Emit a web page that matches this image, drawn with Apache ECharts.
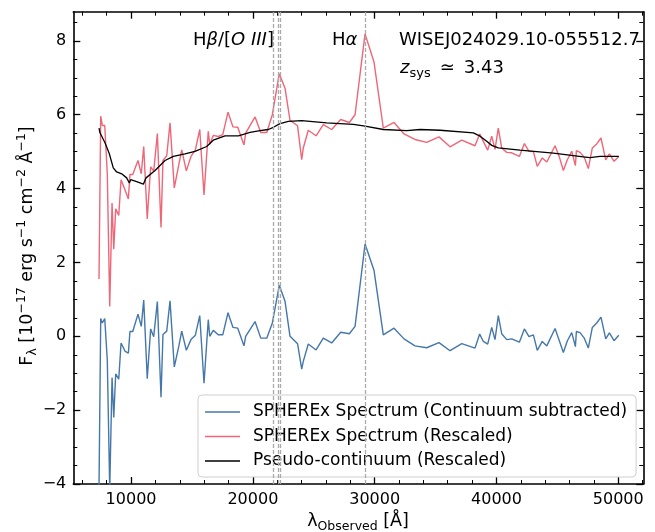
<!DOCTYPE html>
<html><head><meta charset="utf-8">
<script src="https://cdn.jsdelivr.net/npm/echarts@6/dist/echarts.min.js"></script>
<style>html,body{margin:0;padding:0;background:#fff}#c{width:655px;height:532px}</style>
</head><body><div id="c"></div>
<script>
// ---- data ----
const wavelength = [7370,7510,7640,7840,8050,8250,8440,8580,8740,8990,9180,9500,9780,9910,10140,10570,10840,11040,11330,11610,11860,12160,12460,12620,12930,13200,13550,13940,14160,14540,14920,15280,15640,15990,16340,16460,16750,17160,17530,17960,18370,18760,19270,19410,20180,20650,21140,21600,22170,22640,23050,23670,24010,24140,24550,25190,25780,26470,27210,27920,28390,29210,29950,30710,31590,32410,33310,34270,35280,36190,37150,38240,38620,38920,39280,39610,39880,40150,40430,40840,41250,41880,42290,42670,43030,43350,43760,44130,44810,45160,45490,45820,46180,46480,46560,46860,47210,47540,47870,48230,48580,48970,49270,49650,50040];
const fluxRescaled = [1.55,5.96,5.71,5.71,4.40,0.81,3.61,2.36,3.45,3.27,4.24,3.97,3.72,4.38,4.38,4.76,4.40,5.14,3.18,4.59,4.47,5.49,2.95,4.76,4.89,5.78,4.02,4.68,5.05,4.48,4.87,5.05,5.60,3.83,5.55,5.20,5.44,5.41,5.46,6.07,5.67,5.66,5.18,5.50,5.94,5.52,5.52,6.00,7.11,6.72,5.85,5.70,4.78,5.10,5.58,5.43,5.73,5.60,5.87,5.79,6.00,8.19,7.42,5.64,5.79,5.48,5.33,5.25,5.40,5.13,5.31,5.16,5.48,5.28,5.04,5.42,5.06,5.64,5.10,4.98,4.97,4.87,5.22,5.01,5.00,4.60,4.83,4.72,5.16,4.86,4.49,4.78,5.01,4.62,5.03,4.98,4.85,4.54,5.10,5.21,5.37,4.78,4.94,4.74,4.87];
const fluxSubtracted = [-4.09,0.48,0.36,0.48,-0.64,-4.14,-1.12,-2.20,-1.02,-1.16,-0.18,-0.40,-0.46,0.13,0.13,0.60,0.27,0.98,-1.15,0.20,-0.01,0.94,-1.65,0.05,0.14,0.96,-0.83,-0.24,0.14,-0.38,-0.09,0.03,0.56,-1.27,0.45,0.00,0.16,0.04,0.04,0.64,0.24,0.22,-0.26,0.00,0.40,-0.05,-0.05,0.36,1.38,0.95,0.00,-0.20,-0.89,-0.68,-0.21,-0.37,-0.05,-0.18,0.11,0.07,0.27,2.50,1.78,0.04,0.22,-0.07,-0.26,-0.31,-0.17,-0.39,-0.20,-0.32,0.06,-0.14,-0.21,0.24,-0.09,0.56,0.07,-0.09,-0.07,-0.16,0.20,-0.01,0.04,-0.38,-0.14,-0.26,0.21,-0.12,-0.44,-0.12,0.10,-0.28,0.13,0.10,-0.05,-0.32,0.24,0.36,0.52,-0.07,0.09,-0.12,0.03];
const contWavelength = [7370,7450,7860,8210,8540,8820,9230,9640,9860,9970,10460,11010,11230,11970,12790,13470,14430,15250,16210,16750,17710,18810,19770,20590,21270,21680,22230,22910,24010,24140,26060,28250,29210,30710,32630,33720,35370,38100,38650,39200,39610,40150,41930,44670,47130,47680,48500,50040];
const contFlux = [5.64,5.51,5.24,4.95,4.56,4.45,4.40,4.29,4.15,4.24,4.19,4.12,4.29,4.49,4.76,4.87,4.94,5.01,5.14,5.31,5.43,5.43,5.52,5.57,5.60,5.66,5.76,5.82,5.84,5.79,5.78,5.74,5.69,5.60,5.57,5.60,5.58,5.51,5.42,5.28,5.17,5.10,5.04,4.96,4.86,4.84,4.87,4.87];
const lineWavelengths = [21680, 22060, 22270, 29240];
const seriesNames = ['SPHEREx Spectrum (Continuum subtracted)', 'SPHEREx Spectrum (Rescaled)', 'Pseudo-continuum (Rescaled)'];
const xMajorTicks = [10000, 20000, 30000, 40000, 50000];
const xMinorTicks = [6000,8000,12000,14000,16000,18000,22000,24000,26000,28000,32000,34000,36000,38000,42000,44000,46000,48000,52000];
const yMajorTicks = [-4, -2, 0, 2, 4, 6, 8];
const yMinorTicks = [-3.5,-3,-2.5,-1.5,-1,-0.5,0.5,1,1.5,2.5,3,3.5,4.5,5,5.5,6.5,7,7.5,8.5];
const X_MIN = 5259, X_MAX = 52054, Y_MIN = -4, Y_MAX = 8.79;

// ---- chart ----
const FONT = 'DejaVu Sans';
const chart = echarts.init(document.getElementById('c'), null, {renderer: 'canvas'});
function xAx(pos, ticks, len, showLabel, showLine) {
  return {type: 'value', position: pos, min: X_MIN, max: X_MAX, gridIndex: 0,
    axisLine: {show: showLine, onZero: false, lineStyle: {color: '#000', width: 1.6}},
    axisTick: {show: true, inside: true, length: len, customValues: ticks, lineStyle: {color: '#000', width: len > 5 ? 1.3 : 1}},
    axisLabel: {show: showLabel, customValues: ticks, margin: 8, color: '#000', fontSize: 16, fontFamily: FONT,
      formatter: v => String(v)},
    splitLine: {show: false}};
}
function yAx(pos, ticks, len, showLabel, showLine) {
  return {type: 'value', position: pos, min: Y_MIN, max: Y_MAX, gridIndex: 0,
    axisLine: {show: showLine, onZero: false, lineStyle: {color: '#000', width: 1.6}},
    axisTick: {show: true, inside: true, length: len, customValues: ticks, lineStyle: {color: '#000', width: len > 5 ? 1.3 : 1}},
    axisLabel: {show: showLabel, customValues: ticks, margin: 7, color: '#000', fontSize: 16, fontFamily: FONT,
      formatter: v => (v < 0 ? '\u2212' + Math.abs(v) : String(v))},
    splitLine: {show: false}};
}
const zip = (xs, ys) => xs.map((x, i) => [x, ys[i]]);
function mkRich(fs, sfs) {
  return {
    r: {fontSize: fs, fontFamily: FONT, lineHeight: fs + 6, verticalAlign: 'middle', fill: '#000', color: '#000'},
    i: {fontSize: fs, fontFamily: FONT, fontStyle: 'italic', lineHeight: fs + 6, verticalAlign: 'middle', fill: '#000', color: '#000'},
    sub: {fontSize: sfs, fontFamily: FONT, lineHeight: sfs, verticalAlign: 'bottom', fill: '#000', color: '#000'},
    sup: {fontSize: sfs, fontFamily: FONT, lineHeight: sfs, verticalAlign: 'top', fill: '#000', color: '#000'}
  };
}
const richA = mkRich(18, 13);
const richL = mkRich(17.5, 12.5);
const option = {
  animation: false,
  backgroundColor: '#fff',
  grid: {left: 73.3, right: 11.7, top: 11.7, bottom: 48, containLabel: false},
  xAxis: [xAx('bottom', xMajorTicks, 7, true, true), xAx('bottom', xMinorTicks, 4, false, false),
          xAx('top', xMajorTicks, 7, false, true), xAx('top', xMinorTicks, 4, false, false)],
  yAxis: [yAx('left', yMajorTicks, 7, true, true), yAx('left', yMinorTicks, 4, false, false),
          yAx('right', yMajorTicks, 7, false, true), yAx('right', yMinorTicks, 4, false, false)],
  legend: {
    data: seriesNames, orient: 'vertical', left: 198, top: 395, icon: 'rect', itemWidth: 35, itemHeight: 1.6,
    itemGap: 4.5, backgroundColor: 'rgba(255,255,255,0.85)', borderColor: '#cfcfcf', borderWidth: 1, borderRadius: 4,
    padding: [7, 9, 6, 7],
    textStyle: {fontSize: 17, fontFamily: FONT, color: '#000', lineHeight: 20, padding: [0, 0, 0, 8]}
  },
  series: [
    {name: seriesNames[0], type: 'line', data: zip(wavelength, fluxSubtracted), symbol: 'none', showSymbol: false,
     lineStyle: {color: '#4477AA', width: 1.4}, itemStyle: {color: '#4477AA'}, z: 2,
     markLine: {silent: true, symbol: ['none', 'none'], label: {show: false},
       lineStyle: {color: '#aaaaaa', width: 1.3, type: [4, 2]},
       data: lineWavelengths.map(v => ({xAxis: v}))}},
    {name: seriesNames[1], type: 'line', data: zip(wavelength, fluxRescaled), symbol: 'none', showSymbol: false,
     lineStyle: {color: '#EE6677', width: 1.4}, itemStyle: {color: '#EE6677'}, z: 3},
    {name: seriesNames[2], type: 'line', data: zip(contWavelength, contFlux), symbol: 'none', showSymbol: false,
     lineStyle: {color: '#000', width: 1.3}, itemStyle: {color: '#000'}, z: 4}
  ],
  graphic: [
    {type: 'text', x: 193, y: 40, z: 100, style: {text: '{r|H}{i|\u03b2}{r|/[}{i|O III}{r|]}', rich: richA, verticalAlign: 'middle', align: 'left'}},
    {type: 'text', x: 332, y: 40, z: 100, style: {text: '{r|H}{i|\u03b1}', rich: richA, verticalAlign: 'middle', align: 'left'}},
    {type: 'text', x: 399, y: 40, z: 100, style: {text: '{r|WISEJ024029.10-055512.7}', rich: richA, verticalAlign: 'middle', align: 'left'}},
    {type: 'text', x: 400, y: 68, z: 100, style: {text: '{i|z}{sub|sys}{r|\u2002\u2243\u20023.43}', rich: richA, verticalAlign: 'middle', align: 'left'}},
    {type: 'text', x: 358, y: 521, z: 100, style: {text: '{r|\u03bb}{sub|Observed}{r| [\u00c5]}', rich: richL, verticalAlign: 'middle', align: 'center'}},
    {type: 'text', x: 27, y: 246, rotation: Math.PI / 2, z: 100, style: {text: '{r|F}{sub|\u03bb}{r| [10}{sup|\u221217}{r| erg s}{sup|\u22121}{r| cm}{sup|\u22122}{r| \u00c5}{sup|\u22121}{r|]}', rich: richL, verticalAlign: 'middle', align: 'center'}}
  ]
};
chart.setOption(option);
</script>
</body></html>
